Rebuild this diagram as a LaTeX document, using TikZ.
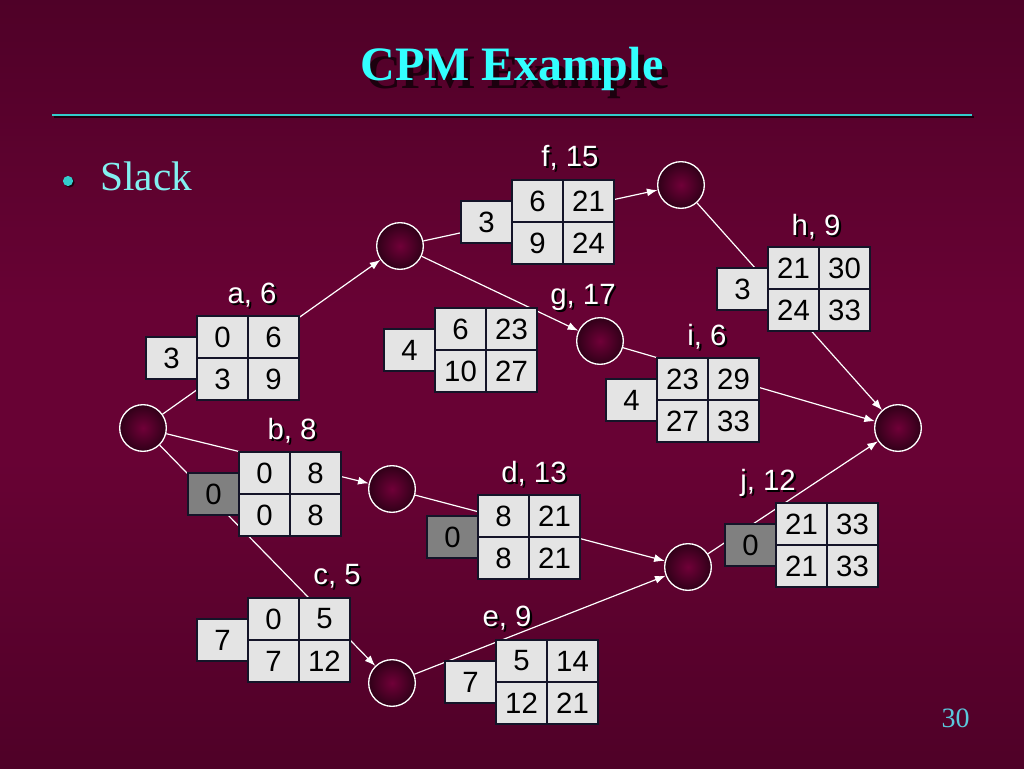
\documentclass[tikz,border=0pt]{standalone}
\usepackage{fontspec}
\setmainfont{Liberation Serif}
\newfontfamily\arialfont{Liberation Sans}
\usetikzlibrary{positioning,calc,arrows.meta}

\definecolor{bgdark}{RGB}{48,0,24}
\definecolor{bgmid}{RGB}{104,2,52}
\definecolor{titlecyan}{RGB}{51,255,255}
\definecolor{rulecyan}{RGB}{51,204,204}
\definecolor{slackcyan}{RGB}{130,240,240}
\definecolor{pagecyan}{RGB}{90,200,220}
\definecolor{shadowdark}{RGB}{28,0,14}
\definecolor{cellgrey}{RGB}{228,228,228}
\definecolor{critgrey}{RGB}{128,128,128}
\definecolor{cellline}{RGB}{20,20,40}
\definecolor{eventin}{RGB}{112,0,56}
\definecolor{eventout}{RGB}{48,0,24}

\pgfdeclareverticalshading{slidebg}{100bp}{color(0bp)=(bgdark); color(45bp)=(bgmid); color(55bp)=(bgmid); color(100bp)=(bgdark)}

\tikzset{
  cell/.style={draw=cellline, fill=cellgrey, line width=0.8pt, minimum width=38.25pt, minimum height=31.5pt,
    inner sep=0pt, outer sep=0pt, text=black, font=\arialfont\fontsize{22}{24}\selectfont},
  slackbox/.style={cell},
  critbox/.style={cell, fill=critgrey},
  event/.style={circle, draw=white, line width=1pt, minimum size=35pt, inner sep=0pt,
    inner color=eventin, outer color=eventout},
  lbl/.style={text=white, inner sep=0pt, anchor=base, font=\arialfont\fontsize{22}{24}\selectfont},
  lblshadow/.style={lbl, text=black},
  arc/.style={draw=white, line width=0.9pt, -{Latex[length=8pt,width=6pt]}},
}

% activity box: [slack style] name, top left corner, slack, ES, EF, LS, LF
\newcommand{\actbox}[8][slackbox]{%
  \node[cell, anchor=north west] (#2es) at (#3) {#5};
  \node[cell, right=0pt of #2es] (#2ef) {#6};
  \node[cell, below=0pt of #2es] (#2ls) {#7};
  \node[cell, right=0pt of #2ls] (#2lf) {#8};
  \node[#1, anchor=east] (#2sl) at (#2es.south west) {#4};
}
% activity label with its shadow: name, base point, text
\newcommand{\actlabel}[3]{%
  \node[lblshadow] (#1lbs) at ([shift={(1.6pt,-1.6pt)}]#2) {#3};
  \node[lbl] (#1lb) at (#2) {#3};
}

\begin{document}
\begin{tikzpicture}[x=0.75pt, y=-0.75pt]
  \useasboundingbox (0,0) rectangle (1024,768);
  \shade[shading=slidebg] (0pt,0pt) rectangle (768pt,-576pt);

  % title and bullet
  \coordinate (titlepos) at (512,80);
  \node[anchor=base, text=shadowdark, font=\bfseries\fontsize{36}{40}\selectfont, inner sep=0pt] (titleshadow)
    at ([shift={(4.5pt,-6pt)}]titlepos) {CPM Example};
  \node[anchor=base, text=titlecyan, font=\bfseries\fontsize{36}{40}\selectfont, inner sep=0pt] (title)
    at (titlepos) {CPM Example};
  \draw[shadowdark, line width=1.5pt] (54,117) -- (974,117);
  \draw[rulecyan, line width=1.5pt] (52,115) -- (972,115);
  \fill[shadowdark] (69.5,182.5) circle (3.8pt);
  \fill[rulecyan] (68,181) circle (3.8pt);
  \node[anchor=base west, text=slackcyan, font=\fontsize{31}{34}\selectfont, inner sep=0pt] (slack)
    at (100,190) {Slack};
  \node[anchor=base east, text=pagecyan, font=\fontsize{21}{24}\selectfont, inner sep=0pt] (page)
    at (970,727) {30};

  % events
  \node[event] (ev1) at (143,428) {};
  \node[event] (ev2) at (400,246) {};
  \node[event] (ev3) at (392,489) {};
  \node[event] (ev4) at (392,683) {};
  \node[event] (ev5) at (681,185) {};
  \node[event] (ev6) at (600,341) {};
  \node[event] (ev7) at (688,567) {};
  \node[event] (ev8) at (898,428) {};

  % activities
  \draw[arc] (ev1) -- (ev2);
  \draw[arc] (ev1) -- (ev3);
  \draw[arc] (ev1) -- (ev4);
  \draw[arc] (ev2) -- (ev5);
  \draw[arc] (ev2) -- (ev6);
  \draw[arc] (ev3) -- (ev7);
  \draw[arc] (ev4) -- (ev7);
  \draw[arc] (ev5) -- (ev8);
  \draw[arc] (ev6) -- (ev8);
  \draw[arc] (ev7) -- (ev8);

  \actbox{a}{197,316}{3}{0}{6}{3}{9}
  \actbox[critbox]{b}{239,452}{0}{0}{8}{0}{8}
  \actbox{c}{248,598}{7}{0}{5}{7}{12}
  \actbox[critbox]{d}{478,495}{0}{8}{21}{8}{21}
  \actbox{e}{496,640}{7}{5}{14}{12}{21}
  \actbox{f}{512,180}{3}{6}{21}{9}{24}
  \actbox{g}{435,308}{4}{6}{23}{10}{27}
  \actbox{h}{768,247}{3}{21}{30}{24}{33}
  \actbox{i}{657,358}{4}{23}{29}{27}{33}
  \actbox[critbox]{j}{776,503}{0}{21}{33}{21}{33}

  \actlabel{a}{252,303}{a, 6}
  \actlabel{b}{292,439}{b, 8}
  \actlabel{c}{337,584}{c, 5}
  \actlabel{d}{534,482}{d, 13}
  \actlabel{e}{507,626}{e, 9}
  \actlabel{f}{570,166}{f, 15}
  \actlabel{g}{583,304}{g, 17}
  \actlabel{h}{816,235}{h, 9}
  \actlabel{i}{707,345}{i, 6}
  \actlabel{j}{768,490}{j, 12}
\end{tikzpicture}
\end{document}
